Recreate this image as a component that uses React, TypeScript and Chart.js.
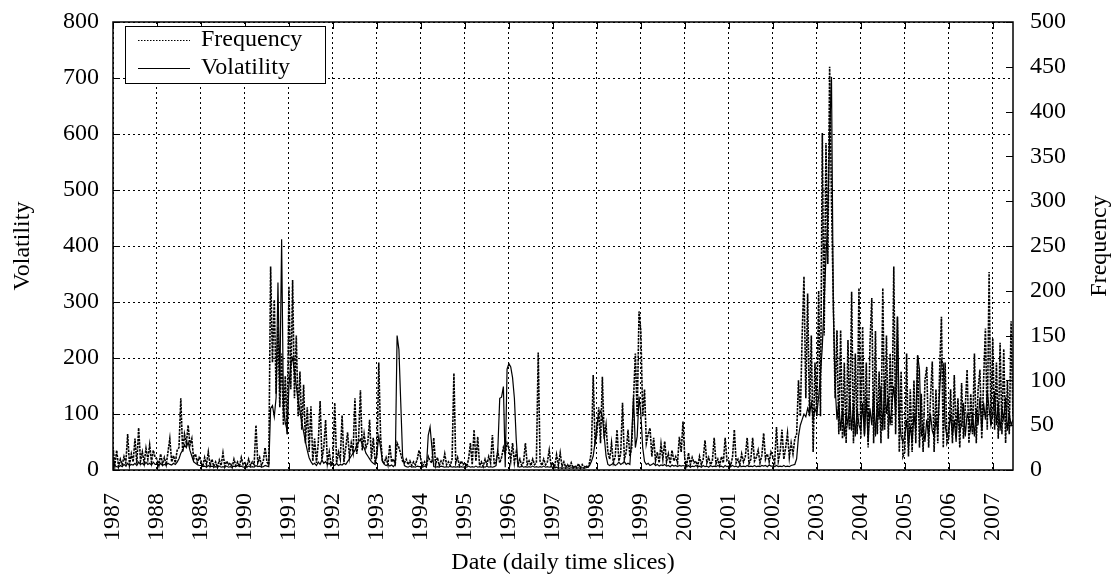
import React, { useEffect, useRef } from "react";
import { Chart, registerables } from "chart.js";

Chart.register(...registerables);

// ---------- axes / ticks ----------
const START_YEAR = 1987;
const STEPS_PER_YEAR = 24; // half-month time slices
const X_MAX = 2007.46;
const YEAR_TICKS = [1987, 1988, 1989, 1990, 1991, 1992, 1993, 1994, 1995, 1996, 1997, 1998, 1999, 2000, 2001, 2002, 2003, 2004, 2005, 2006, 2007];
const VOL_TICKS = [0, 100, 200, 300, 400, 500, 600, 700, 800];
const FREQ_TICKS = [0, 50, 100, 150, 200, 250, 300, 350, 400, 450, 500];

// ---------- Frequency (right axis), half-monthly ----------
const FREQ_1987 = [26, 5, 22, 4, 12, 6, 15, 8, 40, 6, 18, 9, 35, 7, 47, 10, 20, 8, 24, 12, 28, 9, 22, 14];
const FREQ_1988 = [12, 5, 18, 7, 14, 6, 20, 35, 9, 16, 8, 22, 25, 80, 20, 40, 30, 50, 28, 35, 12, 18, 8, 14];
const FREQ_1989 = [10, 4, 14, 6, 20, 5, 12, 4, 9, 3, 11, 5, 19, 4, 10, 6, 8, 3, 12, 5, 9, 4, 14, 6];
const FREQ_1990 = [8, 4, 12, 5, 9, 6, 50, 8, 14, 5, 10, 25, 9, 6, 227, 120, 190, 85, 160, 70, 130, 50, 105, 40];
const FREQ_1991 = [205, 90, 212, 80, 150, 60, 110, 45, 95, 30, 70, 20, 71, 10, 35, 8, 30, 77, 12, 25, 56, 8, 20, 6];
const FREQ_1992 = [10, 75, 8, 20, 12, 61, 9, 25, 42, 15, 30, 20, 80, 18, 35, 89, 22, 40, 25, 30, 56, 12, 36, 10];
const FREQ_1993 = [15, 120, 37, 10, 8, 14, 6, 28, 9, 12, 7, 30, 25, 18, 10, 8, 12, 6, 10, 5, 9, 6, 12, 22];
const FREQ_1994 = [12, 5, 9, 4, 15, 10, 8, 36, 6, 14, 5, 10, 7, 18, 6, 9, 5, 12, 108, 8, 14, 5, 10, 6];
const FREQ_1995 = [8, 4, 12, 30, 6, 45, 10, 37, 5, 9, 4, 12, 6, 15, 8, 39, 6, 10, 20, 8, 14, 25, 18, 30];
const FREQ_1996 = [25, 10, 30, 8, 20, 6, 12, 5, 9, 30, 6, 10, 5, 12, 6, 8, 131, 10, 5, 12, 6, 9, 22, 5];
const FREQ_1997 = [8, 4, 17, 5, 19, 4, 9, 3, 6, 3, 8, 2, 5, 3, 7, 2, 6, 3, 5, 2, 8, 20, 106, 30];
const FREQ_1998 = [40, 70, 30, 104, 35, 50, 20, 12, 30, 8, 15, 45, 10, 18, 75, 12, 20, 45, 15, 25, 80, 130, 60, 177];
const FREQ_1999 = [155, 60, 90, 30, 40, 47, 15, 36, 10, 20, 8, 29, 12, 32, 9, 18, 7, 22, 10, 15, 8, 37, 20, 54];
const FREQ_2000 = [12, 5, 19, 6, 14, 8, 10, 4, 15, 6, 12, 33, 8, 14, 6, 10, 36, 7, 12, 5, 15, 8, 36, 10];
const FREQ_2001 = [10, 5, 14, 45, 8, 12, 6, 18, 9, 15, 36, 7, 12, 36, 10, 14, 22, 8, 16, 41, 12, 18, 9, 20];
const FREQ_2002 = [15, 8, 48, 10, 20, 45, 12, 25, 41, 14, 30, 18, 35, 40, 100, 60, 150, 216, 80, 197, 60, 150, 20, 120];
const FREQ_2003 = [60, 200, 60, 376, 150, 365, 230, 450, 300, 190, 80, 156, 40, 156, 35, 120, 30, 145, 45, 199, 30, 130, 40, 203];
const FREQ_2004 = [35, 160, 40, 120, 25, 140, 192, 30, 155, 40, 110, 30, 203, 45, 150, 35, 130, 50, 227, 40, 171, 20, 110, 15];
const FREQ_2005 = [20, 130, 15, 90, 20, 100, 30, 128, 25, 85, 20, 100, 115, 25, 80, 121, 20, 90, 30, 110, 171, 25, 120, 30];
const FREQ_2006 = [35, 90, 30, 106, 40, 80, 25, 97, 35, 70, 112, 30, 85, 40, 130, 30, 90, 112, 35, 100, 158, 45, 221, 50];
const FREQ_2007 = [147, 45, 120, 35, 142, 40, 135, 30, 100, 40, 166, 60];

// ---------- Volatility (left axis), half-monthly ----------
const VOL_1987 = [20, 8, 6, 5, 8, 6, 10, 7, 12, 8, 10, 9, 12, 8, 14, 10, 12, 9, 14, 10, 12, 9, 14, 10];
const VOL_1988 = [10, 8, 12, 8, 10, 9, 12, 10, 9, 12, 10, 14, 20, 30, 35, 45, 40, 50, 35, 25, 15, 12, 10, 8];
const VOL_1989 = [8, 6, 7, 5, 8, 6, 7, 5, 6, 5, 7, 5, 6, 5, 7, 5, 6, 5, 7, 6, 8, 6, 7, 5];
const VOL_1990 = [6, 5, 7, 5, 6, 5, 8, 6, 7, 5, 6, 8, 7, 6, 110, 115, 95, 130, 335, 140, 412, 110, 85, 70];
const VOL_1991 = [150, 190, 200, 175, 150, 125, 105, 85, 68, 50, 35, 22, 15, 10, 12, 8, 14, 10, 18, 12, 15, 10, 12, 8];
const VOL_1992 = [10, 8, 12, 8, 10, 9, 12, 10, 15, 20, 25, 30, 35, 45, 50, 55, 45, 40, 30, 25, 20, 15, 12, 10];
const VOL_1993 = [30, 60, 40, 15, 10, 8, 10, 7, 9, 6, 10, 240, 215, 120, 25, 8, 6, 5, 7, 5, 6, 5, 7, 6];
const VOL_1994 = [6, 5, 7, 5, 62, 77, 40, 6, 5, 6, 5, 7, 6, 5, 6, 5, 7, 5, 6, 5, 6, 5, 6, 5];
const VOL_1995 = [6, 5, 7, 5, 6, 5, 7, 5, 6, 5, 6, 5, 7, 5, 6, 5, 6, 8, 40, 128, 130, 149, 5, 180];
const VOL_1996 = [190, 184, 165, 128, 55, 6, 5, 7, 5, 6, 5, 6, 5, 7, 5, 6, 5, 6, 5, 7, 5, 6, 5, 6];
const VOL_1997 = [5, 4, 5, 3, 4, 3, 4, 3, 4, 3, 4, 3, 4, 3, 4, 3, 4, 3, 4, 5, 8, 15, 25, 50];
const VOL_1998 = [80, 100, 105, 95, 60, 25, 10, 8, 10, 12, 8, 10, 14, 10, 12, 15, 10, 12, 10, 60, 131, 40, 60, 131];
const VOL_1999 = [100, 40, 15, 10, 12, 8, 10, 12, 8, 10, 7, 9, 8, 10, 7, 8, 6, 9, 7, 8, 6, 8, 7, 8];
const VOL_2000 = [7, 6, 8, 5, 7, 6, 8, 6, 7, 5, 8, 6, 7, 5, 8, 6, 7, 6, 8, 6, 7, 5, 8, 6];
const VOL_2001 = [7, 6, 8, 6, 7, 5, 8, 6, 7, 6, 8, 6, 7, 6, 8, 6, 7, 6, 8, 7, 8, 6, 9, 7];
const VOL_2002 = [7, 6, 8, 6, 7, 6, 8, 6, 7, 6, 8, 9, 10, 20, 60, 80, 90, 100, 95, 110, 100, 120, 90, 110];
const VOL_2003 = [100, 130, 170, 220, 300, 380, 450, 600, 702, 290, 150, 90, 120, 70, 110, 60, 100, 80, 130, 70, 120, 60, 110, 80];
const VOL_2004 = [70, 120, 60, 130, 50, 110, 80, 140, 60, 120, 90, 150, 70, 160, 100, 130, 80, 120, 150, 100, 274, 90, 60, 50];
const VOL_2005 = [60, 90, 40, 80, 50, 100, 70, 205, 180, 60, 80, 50, 90, 60, 100, 70, 60, 90, 70, 140, 196, 190, 80, 60];
const VOL_2006 = [70, 100, 60, 90, 50, 110, 70, 80, 120, 60, 100, 90, 70, 100, 60, 110, 80, 130, 70, 120, 90, 140, 110, 80];
const VOL_2007 = [100, 140, 80, 120, 70, 110, 90, 130, 70, 100, 80, 90];

const FREQUENCY = [
  ...FREQ_1987, ...FREQ_1988, ...FREQ_1989, ...FREQ_1990, ...FREQ_1991, ...FREQ_1992, ...FREQ_1993,
  ...FREQ_1994, ...FREQ_1995, ...FREQ_1996, ...FREQ_1997, ...FREQ_1998, ...FREQ_1999, ...FREQ_2000,
  ...FREQ_2001, ...FREQ_2002, ...FREQ_2003, ...FREQ_2004, ...FREQ_2005, ...FREQ_2006, ...FREQ_2007,
];
const VOLATILITY = [
  ...VOL_1987, ...VOL_1988, ...VOL_1989, ...VOL_1990, ...VOL_1991, ...VOL_1992, ...VOL_1993,
  ...VOL_1994, ...VOL_1995, ...VOL_1996, ...VOL_1997, ...VOL_1998, ...VOL_1999, ...VOL_2000,
  ...VOL_2001, ...VOL_2002, ...VOL_2003, ...VOL_2004, ...VOL_2005, ...VOL_2006, ...VOL_2007,
];

const LEGEND_LABELS = ["Frequency", "Volatility"];
const X_TITLE = "Date (daily time slices)";
const Y_TITLE = "Volatility";
const Y2_TITLE = "Frequency";

const FONT = "'Liberation Serif', 'Times New Roman', serif";
const FONT_SIZE = 24;
const FREQ_DASH = [2.5, 1];
const LEGEND_DASH = [1.5, 1.5];
const GRID_DASH = [2, 3];
const TICK_LEN = 7;

const toPoints = (vals: number[]) =>
  vals.map((v, i) => ({ x: START_YEAR + i / STEPS_PER_YEAR, y: v }));

const zeroPad = (s: any) => {
  s.paddingTop = 0;
  s.paddingBottom = 0;
  s.paddingLeft = 0;
  s.paddingRight = 0;
};

const gnuplotFrame = {
  id: "gnuplotFrame",
  afterDraw(chart: any) {
    const { ctx, chartArea: a, scales } = chart;
    ctx.save();
    ctx.strokeStyle = "#000";
    ctx.fillStyle = "#000";

    // inward tick marks
    ctx.lineWidth = 1;
    ctx.setLineDash([]);
    ctx.beginPath();
    VOL_TICKS.forEach((v) => {
      const y = Math.round(scales.y.getPixelForValue(v)) + 0.5;
      ctx.moveTo(a.left, y);
      ctx.lineTo(a.left + TICK_LEN, y);
    });
    FREQ_TICKS.forEach((v) => {
      const y = Math.round(scales.y2.getPixelForValue(v)) + 0.5;
      ctx.moveTo(a.right, y);
      ctx.lineTo(a.right - TICK_LEN, y);
    });
    YEAR_TICKS.forEach((v) => {
      const x = Math.round(scales.x.getPixelForValue(v)) + 0.5;
      ctx.moveTo(x, a.bottom);
      ctx.lineTo(x, a.bottom - TICK_LEN);
      ctx.moveTo(x, a.top);
      ctx.lineTo(x, a.top + TICK_LEN);
    });
    ctx.stroke();

    // plot border
    ctx.lineWidth = 1.5;
    ctx.strokeRect(a.left, a.top, a.right - a.left, a.bottom - a.top);

    // legend
    const bx = a.left + 12;
    const by = a.top + 4;
    const bw = 200;
    const bh = 57;
    ctx.fillStyle = "#fff";
    ctx.fillRect(bx, by, bw, bh);
    ctx.lineWidth = 1;
    ctx.strokeRect(bx + 0.5, by + 0.5, bw, bh);
    const rows = [by + 14, by + 42];
    ctx.font = `${FONT_SIZE}px ${FONT}`;
    ctx.textBaseline = "middle";
    ctx.textAlign = "left";
    ctx.fillStyle = "#000";
    LEGEND_LABELS.forEach((label, i) => {
      ctx.beginPath();
      ctx.setLineDash(i === 0 ? LEGEND_DASH : []);
      ctx.moveTo(bx + 13, rows[i] + 0.5);
      ctx.lineTo(bx + 65, rows[i] + 0.5);
      ctx.stroke();
      ctx.fillText(label, bx + 76, rows[i]);
    });
    ctx.setLineDash([]);

    // axis titles
    const midY = (a.top + a.bottom) / 2;
    ctx.textAlign = "center";
    ctx.save();
    ctx.translate(23, midY);
    ctx.rotate(-Math.PI / 2);
    ctx.fillText(Y_TITLE, 0, 0);
    ctx.restore();
    ctx.save();
    ctx.translate(1100, midY);
    ctx.rotate(-Math.PI / 2);
    ctx.fillText(Y2_TITLE, 0, 0);
    ctx.restore();
    ctx.fillText(X_TITLE, (a.left + a.right) / 2, 563);

    ctx.restore();
  },
};

export default function App() {
  const canvasRef = useRef<HTMLCanvasElement | null>(null);

  useEffect(() => {
    const canvas = canvasRef.current;
    if (!canvas) return;
    const chart = new Chart(canvas, {
      type: "line",
      data: {
        datasets: [
          {
            label: "Volatility",
            data: toPoints(VOLATILITY),
            yAxisID: "y",
            borderColor: "#000",
            borderWidth: 1.2,
            pointRadius: 0,
            tension: 0,
            fill: false,
          },
          {
            label: "Frequency",
            data: toPoints(FREQUENCY),
            yAxisID: "y2",
            borderColor: "#000",
            borderWidth: 1.6,
            borderDash: FREQ_DASH,
            pointRadius: 0,
            tension: 0,
            fill: false,
          },
        ],
      },
      options: {
        responsive: false,
        animation: false,
        events: [],
        layout: { padding: { top: 22, left: 0, right: 0, bottom: 0 } },
        plugins: {
          legend: { display: false },
          tooltip: { enabled: false },
          title: { display: false },
        },
        scales: {
          x: {
            type: "linear",
            min: START_YEAR,
            max: X_MAX,
            afterBuildTicks: (s: any) => {
              s.ticks = YEAR_TICKS.map((v) => ({ value: v }));
            },
            afterFit: (s: any) => {
              s.height = 106;
              zeroPad(s);
            },
            ticks: {
              autoSkip: false,
              minRotation: 90,
              maxRotation: 90,
              padding: 23,
              color: "#000",
              font: { family: FONT, size: FONT_SIZE },
              callback: (v: any) => String(v),
            },
            grid: { color: "#000", lineWidth: 1, drawTicks: false },
            border: { display: false, dash: GRID_DASH },
          },
          y: {
            type: "linear",
            position: "left",
            min: 0,
            max: 800,
            afterBuildTicks: (s: any) => {
              s.ticks = VOL_TICKS.map((v) => ({ value: v }));
            },
            afterFit: (s: any) => {
              s.width = 113;
              zeroPad(s);
            },
            ticks: {
              padding: 14,
              color: "#000",
              font: { family: FONT, size: FONT_SIZE },
              callback: (v: any) => String(v),
            },
            grid: { color: "#000", lineWidth: 1, drawTicks: false },
            border: { display: false, dash: GRID_DASH },
          },
          y2: {
            type: "linear",
            position: "right",
            min: 0,
            max: 500,
            afterBuildTicks: (s: any) => {
              s.ticks = FREQ_TICKS.map((v) => ({ value: v }));
            },
            afterFit: (s: any) => {
              s.width = 103;
              zeroPad(s);
            },
            ticks: {
              padding: 17,
              color: "#000",
              font: { family: FONT, size: FONT_SIZE },
              callback: (v: any) => String(v),
            },
            grid: { display: false, drawTicks: false },
            border: { display: false },
          },
        },
      },
      plugins: [gnuplotFrame],
    });
    return () => chart.destroy();
  }, []);

  return (
    <div style={{ position: "fixed", left: 0, top: 0, width: 1116, height: 576, background: "#fff" }}>
      <canvas ref={canvasRef} width={1116} height={576} style={{ display: "block" }} />
    </div>
  );
}
